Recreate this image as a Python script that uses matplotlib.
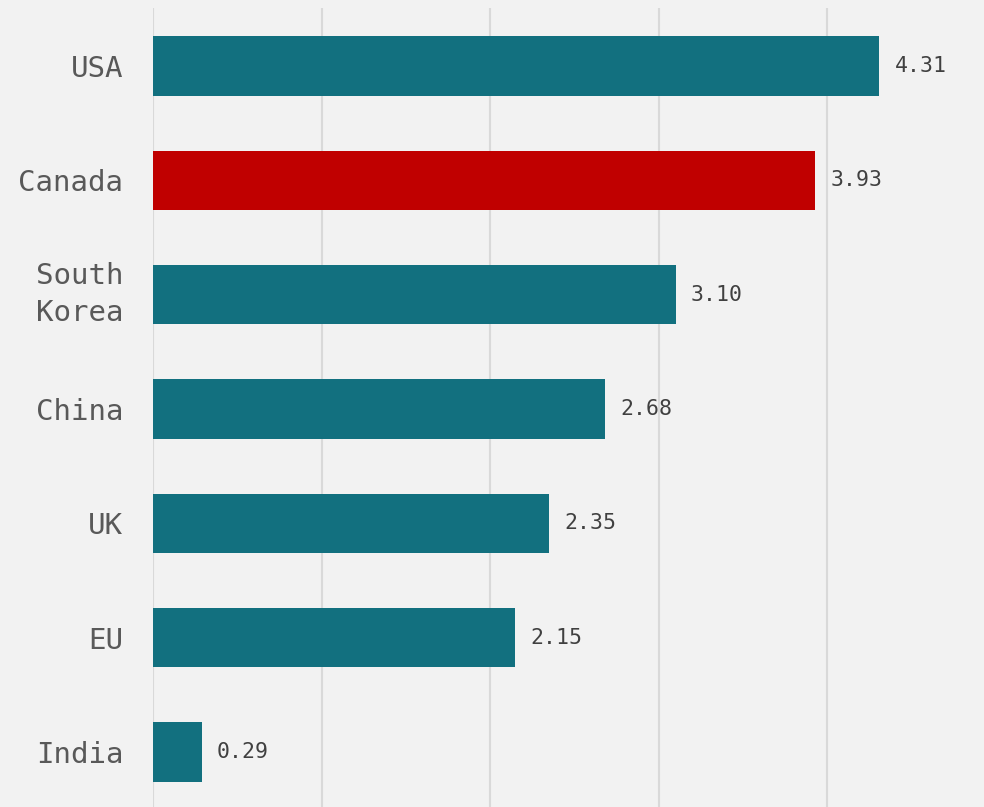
import matplotlib
matplotlib.use('Agg')
import matplotlib.pyplot as plt

# categories, top to bottom
countries = ['USA', 'Canada', 'South\nKorea', 'China', 'UK', 'EU', 'India']
values = [4.31, 3.93, 3.10, 2.68, 2.35, 2.15, 0.29]
bar_colors = ['#12707f', '#c00000', '#12707f', '#12707f', '#12707f', '#12707f', '#12707f']

plt.rcParams['font.family'] = ['DejaVu Sans Mono']

fig = plt.figure(figsize=(9.84, 8.07), dpi=100, facecolor='#f2f2f2')
ax = fig.add_axes([153/984, 0, 1-153/984, 1-8/807])
ax.set_facecolor('#f2f2f2')

pos = list(range(len(countries)))
ax.barh(pos, values, height=0.52, color=bar_colors, zorder=3)

for p, v in zip(pos, values):
    ax.text(v + 0.09, p, f'{v:.2f}', va='center', ha='left',
            fontsize=15.5, color='#404040')

ax.set_xlim(0, 4.93)
ax.set_ylim(6.48, -0.507)
ax.set_xticks([0, 1, 2, 3, 4])
ax.xaxis.grid(True, color='#d9d9d9', linewidth=1.5, zorder=0)
ax.set_yticks(pos)
ax.set_yticklabels(countries, fontsize=21, color='#595959', linespacing=1.42)
# two-line label: centre the whole block on the bar
for lbl in ax.get_yticklabels():
    if '\n' in lbl.get_text():
        lbl.set_va('center')
ax.tick_params(axis='y', length=0, pad=21.5)
ax.tick_params(axis='x', length=0, labelbottom=False)
for s in ax.spines.values():
    s.set_visible(False)

fig.savefig('out.png', dpi=100, facecolor=fig.get_facecolor())
